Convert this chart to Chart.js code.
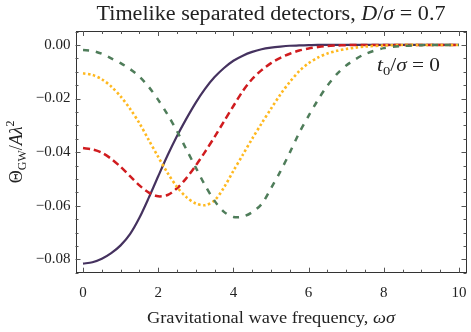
<!DOCTYPE html>
<html>
<head>
<meta charset="utf-8">
<script src="https://cdn.jsdelivr.net/npm/chart.js@4.4.1/dist/chart.umd.min.js"></script>
<style>
  html, body { margin: 0; padding: 0; background: #fff; }
  #wrap { width: 471px; height: 332px; position: relative; }
</style>
</head>
<body>
<div id="wrap"><canvas id="chart"></canvas></div>
<script>
// gravitational wave frequency, omega*sigma
const OMEGA = [0, 0.25, 0.5, 0.75, 1, 1.25, 1.5, 1.75, 2, 2.25, 2.5, 2.75, 3, 3.25, 3.5, 3.75,
  4, 4.25, 4.5, 4.75, 5, 5.25, 5.5, 5.75, 6, 6.25, 6.5, 6.75, 7, 7.25, 7.5, 8, 8.5, 9, 9.5, 10];

// Theta_GW / A lambda^2, one array per curve
const THETA_SOLID = [-0.0816, -0.0811, -0.0798, -0.0777, -0.0748, -0.0706, -0.0645, -0.0570, -0.0490, -0.0412,
  -0.0340, -0.0275, -0.0215, -0.0163, -0.0120, -0.0086, -0.0059, -0.0040, -0.0026, -0.0016,
  -0.0010, -0.0006, -0.0003, -0.0002, -0.0001, 0, 0, 0, 0, 0, 0, 0, 0, 0, 0, 0];
const THETA_RED = [-0.0385, -0.0390, -0.0402, -0.0425, -0.0455, -0.0490, -0.0524, -0.0551, -0.0565, -0.0560,
  -0.0535, -0.0497, -0.0450, -0.0398, -0.0343, -0.0285, -0.0228, -0.0172, -0.0127, -0.0094,
  -0.0068, -0.0048, -0.0033, -0.0021, -0.0013, -0.0008, -0.0004, -0.0002, -0.0001, 0, 0, 0, 0, 0, 0, 0];
const THETA_YELLOW = [-0.0106, -0.0112, -0.0128, -0.0155, -0.0192, -0.0238, -0.0292, -0.0355, -0.0418, -0.0478,
  -0.0530, -0.0568, -0.0592, -0.0598, -0.0580, -0.0532, -0.0470, -0.0410, -0.0350, -0.0293,
  -0.0238, -0.0185, -0.0138, -0.0098, -0.0068, -0.0047, -0.0032, -0.0022, -0.0015, -0.0010, -0.0006,
  -0.0002, 0, 0, 0, 0];
const THETA_GREEN = [-0.0019, -0.0022, -0.0033, -0.0050, -0.0068, -0.0090, -0.0118, -0.0157, -0.0205, -0.0260,
  -0.0322, -0.0390, -0.0458, -0.0525, -0.0582, -0.0623, -0.0642, -0.0641, -0.0624, -0.0594,
  -0.0535, -0.0472, -0.0402, -0.0328, -0.0265, -0.0205, -0.0152, -0.0109, -0.0077, -0.0053, -0.0034,
  -0.0012, -0.0004, -0.0001, 0, 0];

const X_TICKS = [0, 2, 4, 6, 8, 10];
const Y_TICKS = [0, -0.02, -0.04, -0.06, -0.08];

const SERIF = '"Liberation Serif", "DejaVu Serif", serif';
const INK = '#222';

function points(ys) {
  return OMEGA.map((x, i) => ({ x: x, y: ys[i] }));
}

// draws a run of text pieces with their own font / vertical shift,
// optionally stretched sideways to a given width
function drawRich(ctx, parts, x, y, align, width) {
  let w = 0;
  parts.forEach(p => { ctx.font = p.f; w += ctx.measureText(p.t).width; });
  const sx = width ? width / w : 1;
  ctx.save();
  ctx.translate(x, y);
  ctx.scale(sx, 1);
  let cx = align === 'center' ? -w / 2 : 0;
  ctx.textBaseline = 'alphabetic';
  ctx.textAlign = 'left';
  parts.forEach(p => {
    ctx.font = p.f;
    ctx.fillText(p.t, cx, p.dy || 0);
    cx += ctx.measureText(p.t).width;
  });
  ctx.restore();
}

const f = (size, italic) => (italic ? 'italic ' : '') + size + 'px ' + SERIF;

const framePlugin = {
  id: 'frame',
  afterDatasetsDraw(chart) {
    const { ctx, chartArea: a, scales: { x, y } } = chart;
    ctx.save();
    ctx.strokeStyle = '#333';
    ctx.lineWidth = 1;
    ctx.strokeRect(Math.round(a.left) + 0.5, Math.round(a.top) + 0.5,
      Math.round(a.right - a.left) - 1, Math.round(a.bottom - a.top) - 1);

    ctx.strokeStyle = '#555';
    ctx.beginPath();
    for (let i = 0; i <= 20; i++) {
      const v = i * 0.5;
      const px = Math.round(x.getPixelForValue(v)) + 0.5;
      const len = i % 4 === 0 ? 5 : 3;
      ctx.moveTo(px, a.bottom); ctx.lineTo(px, a.bottom - len);
      ctx.moveTo(px, a.top); ctx.lineTo(px, a.top + len);
    }
    for (let i = -17; i <= 1; i++) {
      const v = i * 0.005;
      const py = Math.round(y.getPixelForValue(v)) + 0.5;
      const len = i % 4 === 0 ? 5 : 3;
      ctx.moveTo(a.left, py); ctx.lineTo(a.left + len, py);
      ctx.moveTo(a.right, py); ctx.lineTo(a.right - len, py);
    }
    ctx.stroke();
    ctx.restore();
  },
  afterDraw(chart) {
    const { ctx, chartArea: a } = chart;
    ctx.save();
    ctx.fillStyle = INK;
    const mid = (a.left + a.right) / 2;

    drawRich(ctx, [
      { t: 'Timelike separated detectors, ', f: f(20) },
      { t: 'D', f: f(20, true) },
      { t: '/', f: f(20) },
      { t: 'σ', f: f(20, true) },
      { t: ' = 0.7', f: f(20) }
    ], mid, 20, 'center', 349);

    drawRich(ctx, [
      { t: 'Gravitational wave frequency, ', f: f(16) },
      { t: 'ωσ', f: f(16, true) }
    ], mid, 323, 'center', 248);

    drawRich(ctx, [
      { t: 't', f: f(19, true) },
      { t: '0', f: f(13), dy: 4 },
      { t: '/', f: f(19) },
      { t: 'σ', f: f(19, true) },
      { t: ' = 0', f: f(19) }
    ], 377, 71, 'left', 63);

    ctx.translate(22, (a.top + a.bottom) / 2);
    ctx.rotate(-Math.PI / 2);
    drawRich(ctx, [
      { t: 'Θ', f: f(18) },
      { t: 'GW', f: f(12), dy: 4 },
      { t: '/', f: f(18) },
      { t: 'Aλ', f: f(18, true) },
      { t: '2', f: f(12), dy: -8 }
    ], 0, 0, 'center');
    ctx.restore();
  }
};

const line = (label, ys, color, dash, width, order) => ({
  label: label,
  data: points(ys),
  borderColor: color,
  borderWidth: width,
  borderDash: dash,
  borderCapStyle: 'butt',
  pointRadius: 0,
  fill: false,
  tension: 0.3,
  order: order
});

new Chart(document.getElementById('chart'), {
  type: 'line',
  data: {
    datasets: [
      line('solid', THETA_SOLID, '#45325f', [], 2.2, 4),
      line('red', THETA_RED, '#d01c1f', [7, 4], 2.5, 3),
      line('yellow', THETA_YELLOW, '#ffb920', [2.5, 2.5], 2.6, 2),
      line('green', THETA_GREEN, '#4f7d5a', [6, 7], 2.5, 1)
    ]
  },
  options: {
    responsive: true,
    maintainAspectRatio: false,
    animation: false,
    layout: { padding: { left: 0, right: 4.5, top: 31, bottom: 0 } },
    plugins: { legend: { display: false }, tooltip: { enabled: false }, title: { display: false } },
    scales: {
      x: {
        type: 'linear',
        min: -0.2,
        max: 10.2,
        grid: { display: false, drawTicks: false },
        border: { display: false },
        afterBuildTicks: s => { s.ticks = X_TICKS.map(v => ({ value: v })); },
        afterFit: s => { s.height = 59.3; s.paddingLeft = 0; s.paddingRight = 0; },
        ticks: {
          autoSkip: false,
          maxRotation: 0,
          padding: 11,
          color: INK,
          font: { family: SERIF, size: 15 },
          callback: v => String(v)
        }
      },
      y: {
        type: 'linear',
        min: -0.085,
        max: 0.0052,
        grid: { display: false, drawTicks: false },
        border: { display: false },
        afterBuildTicks: s => { s.ticks = Y_TICKS.map(v => ({ value: v })); },
        afterFit: s => { s.width = 75.5; s.paddingTop = 0; s.paddingBottom = 0; },
        ticks: {
          autoSkip: false,
          padding: 5,
          color: INK,
          font: { family: SERIF, size: 15 },
          callback: v => (v < -1e-9 ? '\u2212' : '') + Math.abs(v).toFixed(2)
        }
      }
    }
  },
  plugins: [framePlugin]
});
</script>
</body>
</html>
